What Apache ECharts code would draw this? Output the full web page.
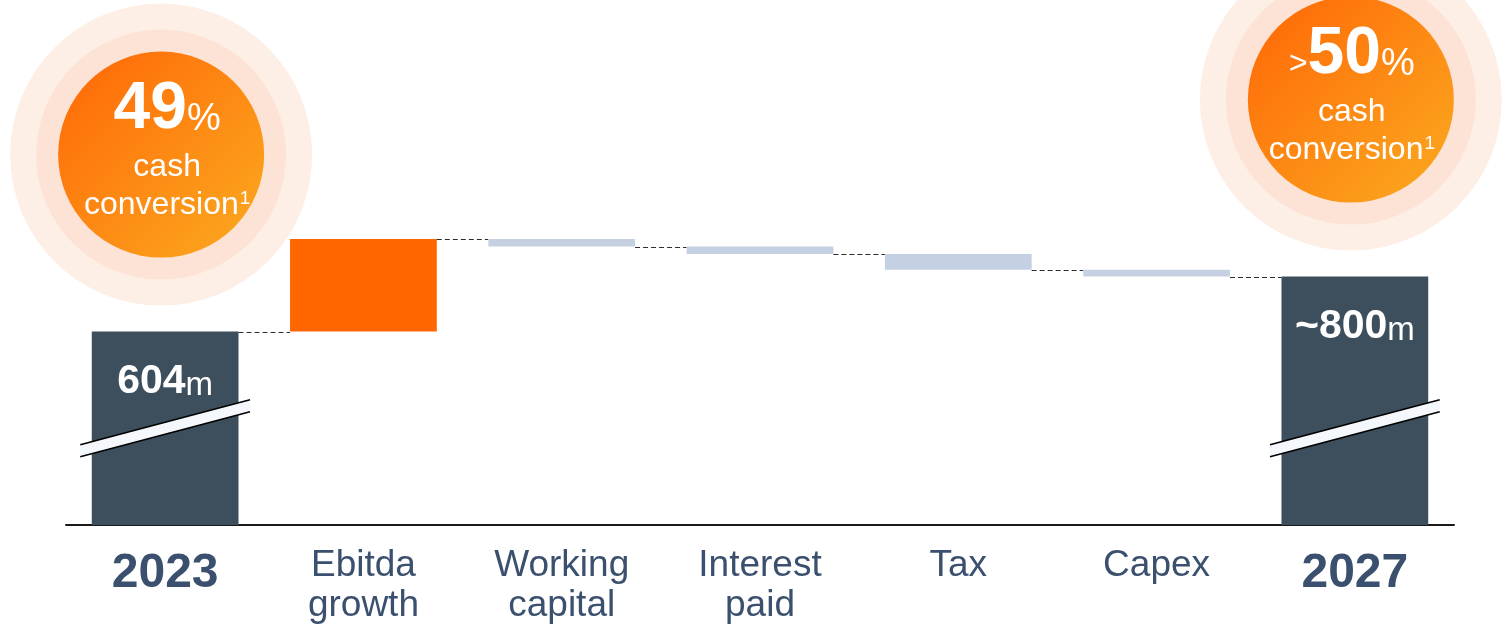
<!DOCTYPE html>
<html>
<head>
<meta charset="utf-8">
<script src="https://cdn.jsdelivr.net/npm/echarts@6/dist/echarts.min.js"></script>
<style>
  html, body { margin: 0; padding: 0; background: #ffffff; }
  #chart { width: 1509px; height: 630px; }
</style>
</head>
<body>
<div id="chart"></div>
<script>
// Cash flow bridge, 2023 -> 2027 (EUR m)
const categories = ['2023', 'Ebitda\ngrowth', 'Working\ncapital', 'Interest\npaid', 'Tax', 'Capex', '2027'];
const openingCash = 604;
const bridgeSteps = [330, -27, -26, -57, -24];
const closingCash = 800;
const totalLabels = ['604', '~800'];
const conversionPrefix = ['', '>'];
const conversionValues = ['49', '50'];

// The value axis is truncated: totals rise from AXIS_FLOOR and carry a break mark at BREAK_AT.
const AXIS_FLOOR = -85;
const BREAK_AT = 260;

const FONT = '"Liberation Sans", Arial, sans-serif';
const TEXT_COLOR = '#3b506e';
const TOTAL_COLOR = '#3d4f5c';
const UP_COLOR = '#ff6600';
const DOWN_COLOR = '#c5d0e2';

// Build [category, low, high, kind, runningTotal, totalIndex] rows
const KIND_TOTAL = 0, KIND_UP = 1, KIND_DOWN = 2;
const rows = [];
rows.push([0, AXIS_FLOOR, openingCash, KIND_TOTAL, openingCash, 0]);
let running = openingCash;
bridgeSteps.forEach(function (d, k) {
  const lo = Math.min(running, running + d);
  const hi = Math.max(running, running + d);
  running += d;
  rows.push([k + 1, lo, hi, d >= 0 ? KIND_UP : KIND_DOWN, running, -1]);
});
rows.push([categories.length - 1, AXIS_FLOOR, closingCash, KIND_TOTAL, closingCash, 1]);

const peak = Math.max.apply(null, rows.map(function (r) { return r[2]; }));

function renderItem(params, api) {
  const i = api.value(0);
  const low = api.value(1);
  const high = api.value(2);
  const kind = api.value(3);
  const end = api.value(4);
  const t = api.value(5);
  const band = api.size([1, 0])[0];
  const w = band * 0.74;
  const pLow = api.coord([i, low]);
  const pHigh = api.coord([i, high]);
  const cx = pLow[0];
  const children = [];
  const fill = kind === KIND_TOTAL ? TOTAL_COLOR : (kind === KIND_UP ? UP_COLOR : DOWN_COLOR);

  children.push({
    type: 'rect',
    shape: { x: cx - w / 2, y: pHigh[1], width: w, height: pLow[1] - pHigh[1] },
    style: { fill: fill }
  });

  // dashed connector to the next bar at the running total
  if (i < categories.length - 1) {
    const yEnd = Math.round(api.coord([i, end])[1]) + 0.5;
    children.push({
      type: 'line',
      shape: { x1: cx + w / 2, y1: yEnd, x2: cx + band - w / 2, y2: yEnd },
      style: { stroke: '#2b2b2b', lineWidth: 1, lineDash: [5, 3] }
    });
  }

  if (kind === KIND_TOTAL) {
    // axis break mark across the bar
    const yb = api.coord([i, BREAK_AT])[1];
    const half = w / 2 + 11.5;
    const rise = 22.5;
    const th = 6;
    children.push({
      type: 'polygon',
      shape: { points: [
        [cx - half, yb + rise - th], [cx + half, yb - rise - th],
        [cx + half, yb - rise + th], [cx - half, yb + rise + th]
      ] },
      style: { fill: '#f4f7fb' }
    });
    children.push({
      type: 'line',
      shape: { x1: cx - half, y1: yb + rise - th, x2: cx + half, y2: yb - rise - th },
      style: { stroke: '#000000', lineWidth: 1.6 }
    });
    children.push({
      type: 'line',
      shape: { x1: cx - half, y1: yb + rise + th, x2: cx + half, y2: yb - rise + th },
      style: { stroke: '#000000', lineWidth: 1.6 }
    });

    // value label inside the bar
    children.push({
      type: 'text',
      x: cx,
      y: pHigh[1] + 50,
      style: {
        text: '{v|' + totalLabels[t] + '}{u|m}',
        align: 'center',
        verticalAlign: 'middle',
        rich: {
          v: { fontFamily: FONT, fontSize: 41, fontWeight: 'bold', fill: '#ffffff', lineHeight: 41, verticalAlign: 'bottom' },
          u: { fontFamily: FONT, fontSize: 33, fill: '#ffffff', lineHeight: 33, verticalAlign: 'bottom' }
        }
      }
    });

    // cash conversion badge above the bar
    const bx = cx - 4;
    const by = pHigh[1] - 177;
    children.push({ type: 'circle', shape: { cx: bx, cy: by, r: 151 }, style: { fill: '#fdefe6' } });
    children.push({ type: 'circle', shape: { cx: bx, cy: by, r: 125 }, style: { fill: '#fde3d5' } });
    children.push({
      type: 'circle',
      shape: { cx: bx, cy: by, r: 103 },
      style: {
        fill: new echarts.graphic.LinearGradient(0, 0, 1, 1, [
          { offset: 0, color: '#ff6606' },
          { offset: 1, color: '#fbab20' }
        ])
      }
    });
    const pre = conversionPrefix[t] ? '{pre|' + conversionPrefix[t] + '}' : '';
    children.push({
      type: 'text',
      x: cx + (t === 0 ? 2 : -3),
      y: by - 1,
      style: {
        text: pre + '{big|' + conversionValues[t] + '}{pct|%}\n{sm|cash}\n{sm|conversion}{sup|1}',
        align: 'center',
        verticalAlign: 'middle',
        rich: {
          pre: { fontFamily: FONT, fontSize: 32, fill: '#ffffff', lineHeight: 32, verticalAlign: 'bottom', padding: [0, 0, 13, 0] },
          big: { fontFamily: FONT, fontSize: 66, fontWeight: 'bold', fill: '#ffffff', lineHeight: 66, verticalAlign: 'bottom', padding: [0, 0, 6, 0] },
          pct: { fontFamily: FONT, fontSize: 38, fill: '#ffffff', lineHeight: 38, verticalAlign: 'bottom', padding: [0, 0, 10, 0] },
          sm: { fontFamily: FONT, fontSize: 32, fill: '#ffffff', lineHeight: 38 },
          sup: { fontFamily: FONT, fontSize: 19, fill: '#ffffff', lineHeight: 38, verticalAlign: 'top', padding: [3, 0, 0, 1] }
        }
      }
    });
  }

  return { type: 'group', children: children };
}

const chart = echarts.init(document.getElementById('chart'), null, { renderer: 'canvas' });
chart.setOption({
  animation: false,
  backgroundColor: '#ffffff',
  grid: { left: 66, right: 55, top: 239, bottom: 105, containLabel: false },
  xAxis: {
    type: 'category',
    data: categories,
    boundaryGap: true,
    axisLine: { onZero: false, lineStyle: { color: '#1a1a1a', width: 2 } },
    axisTick: { show: false },
    axisLabel: {
      interval: 0,
      margin: 21,
      formatter: function (v, idx) {
        if (idx === 0 || idx === categories.length - 1) return '{y|' + v + '}';
        return v.split('\n').map(function (s) { return '{c|' + s + '}'; }).join('\n');
      },
      rich: {
        y: { fontFamily: FONT, fontSize: 48, fontWeight: 'bold', color: TEXT_COLOR, lineHeight: 56 },
        c: { fontFamily: FONT, fontSize: 37, color: TEXT_COLOR, lineHeight: 40 }
      }
    }
  },
  yAxis: {
    type: 'value',
    min: AXIS_FLOOR,
    max: peak,
    show: false,
    splitLine: { show: false }
  },
  series: [{
    type: 'custom',
    renderItem: renderItem,
    clip: false,
    encode: { x: 0, y: [1, 2] },
    data: rows,
    z: 3
  }]
});
</script>
</body>
</html>
